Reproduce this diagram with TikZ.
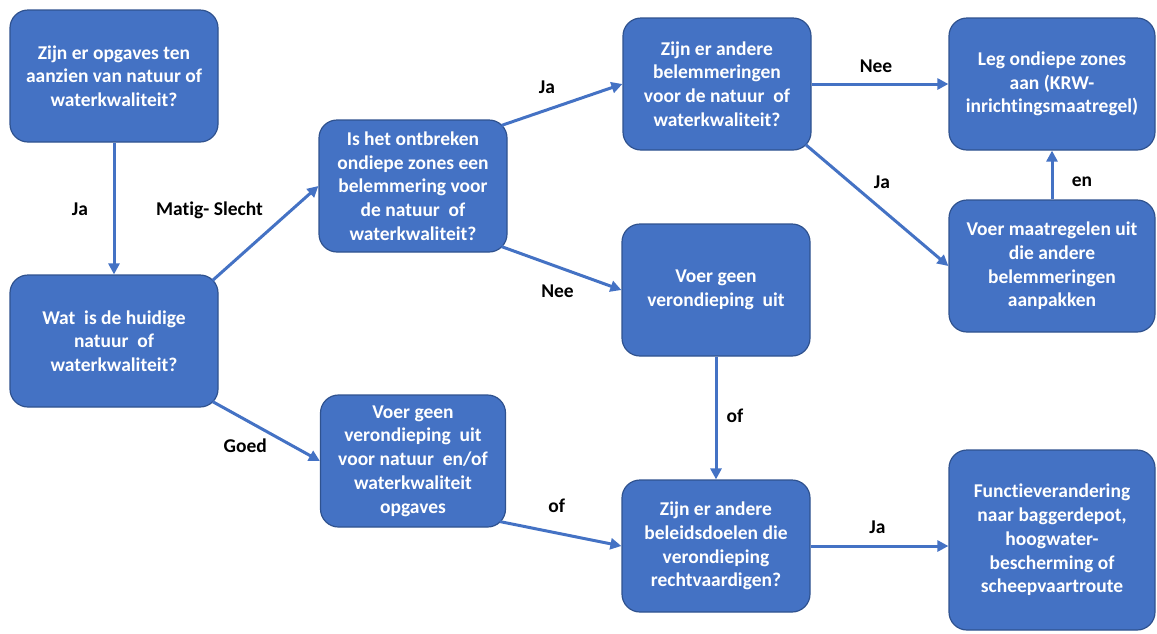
\documentclass[tikz,border=0pt]{standalone}
\usepackage{fontspec}
\setmainfont[Ligatures=NoCommon]{Carlito}
\usetikzlibrary{arrows.meta}
\definecolor{boxblue}{HTML}{4472C4}
\definecolor{boxedge}{HTML}{2F528F}

\begin{document}
\begin{tikzpicture}[x=1pt, y=-1pt,
	box/.style={draw=boxedge, line width=1.2pt, fill=boxblue, rounded corners=18pt, text=white, align=center, minimum height=132pt, inner sep=2pt, font=\fontsize{19.5}{23.7}\selectfont\bfseries},
	leftbox/.style={box, minimum width=208pt},
	midbox/.style={box, minimum width=188pt},
	rightbox/.style={box, minimum width=206pt},
	arr/.style={draw=boxblue, line width=3pt, -{Triangle[length=11pt,width=11pt]}},
	lbl/.style={font=\fontsize{19.5}{23}\selectfont\bfseries, inner sep=0pt}]
				\useasboundingbox (0,0) rectangle (1157,633);
				\path (114,76) node[leftbox] (n1){Zijn er opgaves ten\\aanzien van natuur of\\waterkwaliteit?}
				(114,341) node[leftbox] (n2){Wat~ is de huidige\\natuur~ of\\waterkwaliteit?}
				(413,186) node[midbox] (n3){Is het ontbreken\\ondiepe zones een\\belemmering voor\\de natuur~ of\\waterkwaliteit?}
				(717,84) node[midbox] (n4){Zijn er andere\\belemmeringen\\voor de natuur~ of\\waterkwaliteit?}
				(1052,84) node[rightbox] (n5){Leg ondiepe zones\\aan (KRW-\\inrichtingsmaatregel)}
				(1052,266) node[rightbox] (n6){Voer maatregelen uit\\die andere\\belemmeringen\\aanpakken}
				(716,290) node[midbox] (n7){Voer geen\\verondieping~ uit}
				(413,461) node[midbox, minimum width=185pt] (n8){Voer geen\\verondieping~ uit\\voor natuur~ en/of\\waterkwaliteit\\opgaves}
				(716,546) node[midbox] (n9){Zijn er andere\\beleidsdoelen die\\verondieping\\rechtvaardigen?}
				(1052,540) node[rightbox, minimum height=180pt] (n10){Functieverandering\\naar baggerdepot,\\hoogwater-\\bescherming of\\scheepvaartroute};
				
				\draw[arr] (n1) -- node[lbl, shift={(-34,1)}] {Ja} (n2);
				\draw[arr] ([shift={(-6,6)}]n2.north east) -- node[lbl, shift={(-56,-23)}] {Matig- Slecht} (n3.west);
				\draw[arr] ([shift={(-6,-6)}]n2.south east) -- node[lbl, shift={(-21,14)}] {Goed} (n8.west);
				\draw[arr] ([shift={(-6,6)}]n3.north east) -- node[lbl, shift={(-15,-17)}] {Ja} (n4.west);
				\draw[arr] ([shift={(-6,-6)}]n3.south east) -- node[lbl, shift={(-4,23)}] {Nee} (n7.west);
				\draw[arr] (n4) -- node[lbl, shift={(-4,-18)}] {Nee} (n5);
				\draw[arr] ([shift={(-6,-6)}]n4.south east) -- node[lbl, shift={(5,-23)}] {Ja} (n6.west);
				\draw[arr] (n6) -- node[lbl, shift={(30,7)}] {en} (n5);
				\draw[arr] (n7) -- node[lbl, shift={(19,-2)}] {of} (n9);
				\draw[arr] ([shift={(-6,-6)}]n8.south east) -- node[lbl, shift={(-4,-28)}] {of} (n9.west);
				\draw[arr] (n9.east) -- node[lbl, shift={(-2,-19)}] {Ja} (n9.east -| n10.west);
			\end{tikzpicture}
\end{document}
